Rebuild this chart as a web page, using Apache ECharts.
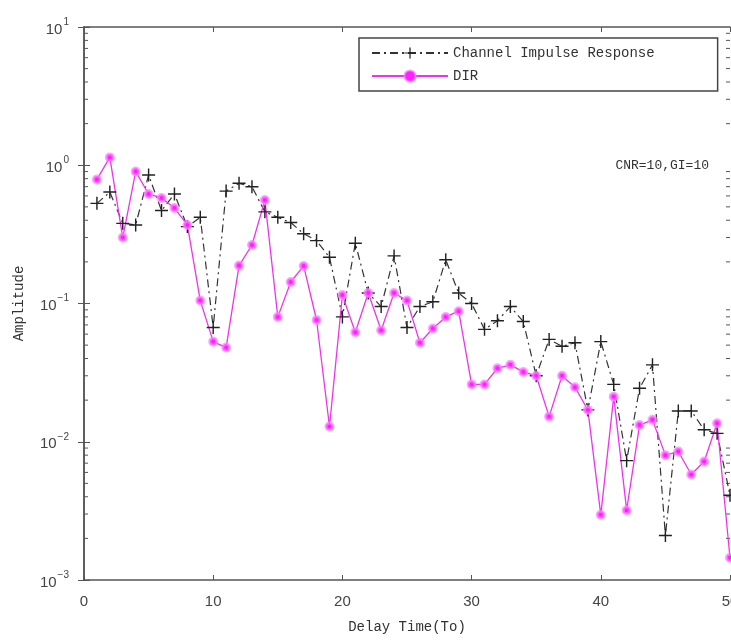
<!DOCTYPE html>
<html>
<head>
<meta charset="utf-8">
<script src="https://cdn.jsdelivr.net/npm/echarts@6/dist/echarts.min.js"></script>
<style>
  html, body { margin: 0; padding: 0; background: #fff; }
  #main { width: 731px; height: 643px; }
</style>
</head>
<body>
<div id="main"></div>
<script>
// delay index (To)
var delay = [1, 2, 3, 4, 5, 6, 7, 8, 9, 10, 11, 12, 13, 14, 15, 16, 17, 18, 19, 20,
             21, 22, 23, 24, 25, 26, 27, 28, 29, 30, 31, 32, 33, 34, 35, 36, 37, 38, 39, 40,
             41, 42, 43, 44, 45, 46, 47, 48, 49, 50];

// Channel Impulse Response
var cir = [0.53, 0.64, 0.38, 0.37, 0.85, 0.47, 0.62, 0.36, 0.42, 0.067,
           0.65, 0.74, 0.70, 0.46, 0.42, 0.385, 0.32, 0.285, 0.216, 0.080,
           0.273, 0.119, 0.095, 0.221, 0.067, 0.095, 0.103, 0.207, 0.119, 0.100,
           0.065, 0.075, 0.095, 0.074, 0.030, 0.055, 0.049, 0.052, 0.017, 0.053,
           0.026, 0.0073, 0.0244, 0.036, 0.0021, 0.0167, 0.0167, 0.0122, 0.0115, 0.0041];

// DIR
var dir = [0.79, 1.14, 0.30, 0.90, 0.62, 0.58, 0.49, 0.37, 0.105, 0.053,
           0.048, 0.188, 0.265, 0.56, 0.080, 0.143, 0.187, 0.076, 0.0129, 0.115,
           0.062, 0.119, 0.064, 0.119, 0.105, 0.052, 0.066, 0.080, 0.088, 0.026,
           0.026, 0.034, 0.036, 0.032, 0.030, 0.0152, 0.030, 0.0248, 0.017, 0.00296,
           0.0212, 0.0032, 0.0132, 0.0144, 0.0080, 0.0085, 0.0058, 0.0072, 0.0136, 0.00145];

// y decades (exponents) and minor multipliers
var yExponents = [-3, -2, -1, 0, 1];
var minorMult = [2, 3, 4, 5, 6, 7, 8, 9];

var mono = '"Liberation Mono", "DejaVu Sans Mono", monospace';
var axisColor = '#555';
var textColor = '#444';

var minorTicks = [];
yExponents.slice(0, -1).forEach(function (e) {
    minorMult.forEach(function (m) { minorTicks.push([0, m * Math.pow(10, e)]); });
});

function pairs(ys) {
    return delay.map(function (x, i) { return [x, ys[i]]; });
}

var myChart = echarts.init(document.getElementById('main'));
var option;

var xCommon = {
    type: 'value', min: 0, max: 50, interval: 10,
    axisLine: { lineStyle: { color: axisColor, width: 1.5 } },
    axisTick: { inside: true, length: 5, lineStyle: { color: axisColor } },
    splitLine: { show: false }
};
var yCommon = {
    type: 'log', logBase: 10, min: 0.001, max: 10,
    axisLine: { show: true, lineStyle: { color: axisColor, width: 1.5 } },
    axisTick: { show: true, inside: true, length: 6, lineStyle: { color: axisColor } },
    splitLine: { show: false }
};

option = {
    animation: false,
    backgroundColor: '#fff',
    grid: { left: 84, right: 1, top: 27, bottom: 63, outerBoundsMode: 'none', containLabel: false },
    legend: {
        orient: 'vertical',
        left: 359, top: 38,
        padding: [8, 63, 8, 12],
        itemGap: 9,
        itemWidth: 76, itemHeight: 14,
        borderColor: '#444', borderWidth: 1.5,
        backgroundColor: '#fff',
        textStyle: { fontFamily: mono, fontSize: 14, color: '#333' },
        data: ['Channel Impulse Response', 'DIR']
    },
    xAxis: [
        Object.assign({}, xCommon, {
            position: 'bottom',
            name: 'Delay Time(To)', nameLocation: 'middle', nameGap: 40,
            nameTextStyle: { fontFamily: mono, fontSize: 14, color: '#333' },
            axisLabel: { margin: 14, fontSize: 15, color: textColor,
                         fontFamily: '"Liberation Sans Narrow", Arial, sans-serif' }
        }),
        Object.assign({}, xCommon, { position: 'top', axisLabel: { show: false } })
    ],
    yAxis: [
        Object.assign({}, yCommon, {
            position: 'left',
            name: 'Amplitude', nameLocation: 'middle', nameGap: 58,
            nameTextStyle: { fontFamily: mono, fontSize: 14, color: '#333' },
            axisLabel: {
                margin: 15,
                formatter: function (v) {
                    var e = Math.round(Math.log10(v));
                    return '{b|10}{s|' + (e < 0 ? '\u2212' + (-e) : e) + '}';
                },
                rich: {
                    b: { fontSize: 15, color: textColor, verticalAlign: 'bottom',
                         fontFamily: '"Liberation Sans Narrow", Arial, sans-serif' },
                    s: { fontSize: 10, color: textColor, verticalAlign: 'bottom',
                         padding: [0, 0, 10, 1],
                         fontFamily: '"Liberation Sans Narrow", Arial, sans-serif' }
                }
            }
        }),
        Object.assign({}, yCommon, { position: 'right', axisLabel: { show: false } })
    ],
    graphic: [{
        type: 'text', right: 22, top: 159,
        style: { text: 'CNR=10,GI=10', fontFamily: mono, fontSize: 13, fill: '#333' }
    }],
    series: [
        {
            // minor log ticks on left and right frame
            type: 'custom',
            silent: true,
            clip: false,
            data: minorTicks,
            renderItem: function (params, api) {
                var v = api.value(1);
                var l = api.coord([0, v]);
                var r = api.coord([50, v]);
                var st = { stroke: axisColor, lineWidth: 1 };
                return {
                    type: 'group',
                    children: [
                        { type: 'line', shape: { x1: l[0], y1: l[1], x2: l[0] + 4, y2: l[1] }, style: st },
                        { type: 'line', shape: { x1: r[0], y1: r[1], x2: r[0] - 4, y2: r[1] }, style: st }
                    ]
                };
            }
        },
        {
            name: 'Channel Impulse Response',
            type: 'line',
            data: pairs(cir),
            symbol: 'path://M4.45,0H5.55V4.45H10V5.55H5.55V10H4.45V5.55H0V4.45H4.45Z',
            symbolSize: 13,
            itemStyle: { color: '#222' },
            lineStyle: { color: '#333', width: 1.2, type: [8, 4, 2, 4] }
        },
        {
            name: 'DIR',
            type: 'line',
            data: pairs(dir),
            symbol: 'circle',
            symbolSize: 7,
            itemStyle: { color: '#ff20ff', borderColor: 'rgba(255,130,255,0.7)', borderWidth: 3 },
            lineStyle: { color: '#ee33ee', width: 1.3 }
        }
    ]
};

myChart.setOption(option);
</script>
</body>
</html>
